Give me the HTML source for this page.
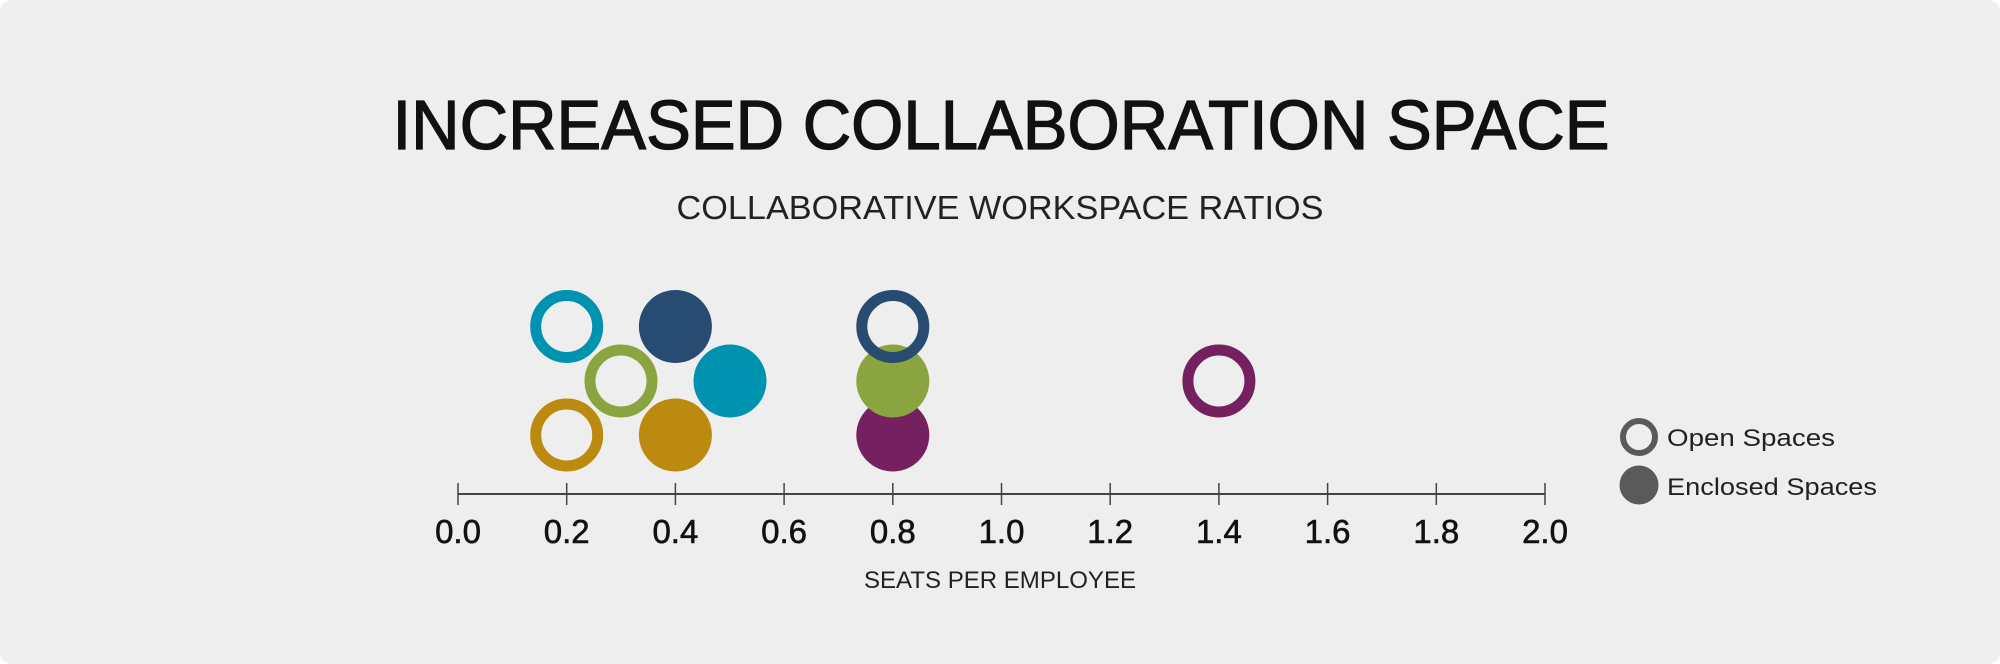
<!DOCTYPE html>
<html><head><meta charset="utf-8"><style>
html,body{margin:0;padding:0;background:#fff;}
svg{display:block;}
text{font-family:"Liberation Sans",sans-serif;fill:#111;}
</style></head><body>
<svg width="2000" height="664" viewBox="0 0 2000 664" xmlns="http://www.w3.org/2000/svg">
<rect x="0" y="0" width="2000" height="664" rx="12" fill="#eeeeee"/>
<text x="1001" y="149" font-size="70" text-anchor="middle" textLength="1217" lengthAdjust="spacingAndGlyphs" stroke="#111" stroke-width="1.3">INCREASED COLLABORATION SPACE</text>
<text x="1000" y="219" font-size="33" text-anchor="middle" textLength="647" lengthAdjust="spacingAndGlyphs" style="fill:#222">COLLABORATIVE WORKSPACE RATIOS</text>
<line x1="458" y1="494" x2="1545" y2="494" stroke="#444" stroke-width="2"/>
<g stroke="#444" stroke-width="1.5">
<line x1="458" y1="483" x2="458" y2="505"/><line x1="566.7" y1="483" x2="566.7" y2="505"/><line x1="675.4" y1="483" x2="675.4" y2="505"/><line x1="784.1" y1="483" x2="784.1" y2="505"/><line x1="892.8" y1="483" x2="892.8" y2="505"/><line x1="1001.5" y1="483" x2="1001.5" y2="505"/><line x1="1110.2" y1="483" x2="1110.2" y2="505"/><line x1="1218.9" y1="483" x2="1218.9" y2="505"/><line x1="1327.6" y1="483" x2="1327.6" y2="505"/><line x1="1436.3" y1="483" x2="1436.3" y2="505"/><line x1="1545" y1="483" x2="1545" y2="505"/>
</g>
<g font-size="33" text-anchor="middle" stroke="#111" stroke-width="0.6">
<text x="458" y="543">0.0</text><text x="566.7" y="543">0.2</text><text x="675.4" y="543">0.4</text><text x="784.1" y="543">0.6</text><text x="892.8" y="543">0.8</text><text x="1001.5" y="543">1.0</text><text x="1110.2" y="543">1.2</text><text x="1218.9" y="543">1.4</text><text x="1327.6" y="543">1.6</text><text x="1436.3" y="543">1.8</text><text x="1545" y="543">2.0</text>
</g>
<text x="1000" y="588" font-size="24" text-anchor="middle" textLength="272" lengthAdjust="spacingAndGlyphs" style="fill:#222">SEATS PER EMPLOYEE</text>
<circle cx="566.7" cy="326.5" r="31" fill="none" stroke="#0093b0" stroke-width="11"/>
<circle cx="675.4" cy="326.5" r="36.5" fill="#274b71"/>
<circle cx="730" cy="381" r="36.5" fill="#0093b0"/>
<circle cx="621" cy="381" r="31" fill="none" stroke="#8aa53f" stroke-width="11"/>
<circle cx="566.7" cy="435" r="31" fill="none" stroke="#bb8a0e" stroke-width="11"/>
<circle cx="675.4" cy="435" r="36.5" fill="#bb8a0e"/>
<circle cx="892.8" cy="435" r="36.5" fill="#76215f"/>
<circle cx="892.8" cy="381" r="36.5" fill="#8aa53f"/>
<circle cx="892.8" cy="326.5" r="31" fill="none" stroke="#274b71" stroke-width="11"/>
<circle cx="1218.9" cy="381" r="31" fill="none" stroke="#76215f" stroke-width="11"/>
<circle cx="1639" cy="437" r="16" fill="none" stroke="#5a5a5a" stroke-width="6"/>
<circle cx="1639" cy="485" r="19.5" fill="#5a5a5a"/>
<text x="1667" y="446" font-size="24" textLength="168" lengthAdjust="spacingAndGlyphs" style="fill:#222">Open Spaces</text>
<text x="1667" y="495" font-size="24" textLength="210" lengthAdjust="spacingAndGlyphs" style="fill:#222">Enclosed Spaces</text>
</svg>
</body></html>
